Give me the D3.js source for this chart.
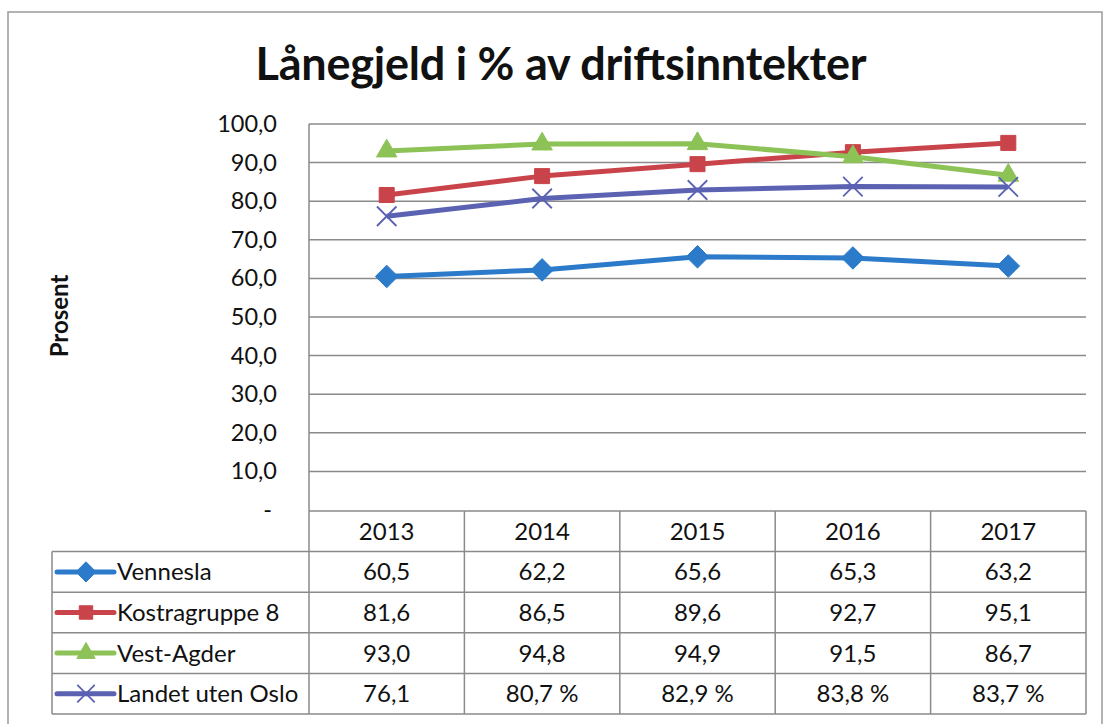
<!DOCTYPE html>
<html>
<head>
<meta charset="utf-8">
<script src="https://cdn.jsdelivr.net/npm/d3@7"></script>
<style>
  body { margin: 0; background: #fff; }
  text { font-family: Lato, "Open Sans", sans-serif; fill: #111; }
</style>
</head>
<body>
<div id="wrapper"></div>
<script>
/* DATA */
const years = ['2013', '2014', '2015', '2016', '2017'];
const seriesNames = ['Vennesla', 'Kostragruppe 8', 'Vest-Agder', 'Landet uten Oslo'];
const vennesla = [60.5, 62.2, 65.6, 65.3, 63.2];
const kostragruppe8 = [81.6, 86.5, 89.6, 92.7, 95.1];
const vestAgder = [93.0, 94.8, 94.9, 91.5, 86.7];
const landetUtenOslo = [76.1, 80.7, 82.9, 83.8, 83.7];
const landetSuffix = ['', ' %', ' %', ' %', ' %'];
const yTicks = [0, 10, 20, 30, 40, 50, 60, 70, 80, 90, 100];

const seriesValues = [vennesla, kostragruppe8, vestAgder, landetUtenOslo];
const colors = ['#2c7bcb', '#c9444a', '#8cc256', '#5b62b2'];
const markers = ['diamond', 'square', 'triangle', 'cross'];

const series = seriesNames.map((name, i) => ({
  name,
  values: seriesValues[i],
  color: colors[i],
  marker: markers[i],
  labels: seriesValues[i].map((v, j) =>
    v.toFixed(1).replace('.', ',') + (i === 3 ? landetSuffix[j] : '')),
}));

/* DIMENSIONS */
const dimensions = {
  width: 1104,
  height: 724,
  plotLeft: 309,
  plotRight: 1086,
  plotTop: 124,
  plotBottom: 510,
  tableTop: 511,
  rowHeight: 40.6,
  legendLeft: 52,
};

/* SCALES */
const xScale = d3.scaleBand()
  .domain(years)
  .range([dimensions.plotLeft, dimensions.plotRight]);

const yScale = d3.scaleLinear()
  .domain([0, 100])
  .range([dimensions.plotBottom, dimensions.plotTop]);

const svg = d3.select('#wrapper')
  .append('svg')
  .attr('width', dimensions.width)
  .attr('height', dimensions.height);

const gridColor = '#8a8a8a';

// outer frame
svg.append('rect')
  .attr('x', 8)
  .attr('y', 12)
  .attr('width', 1094)
  .attr('height', 740)
  .attr('fill', 'none')
  .attr('stroke', '#9a9a9a')
  .attr('stroke-width', 1.5);

// title
svg.append('text')
  .attr('x', 561)
  .attr('y', 80)
  .attr('text-anchor', 'middle')
  .attr('font-size', 45)
  .attr('font-weight', 'bold')
  .attr('textLength', 611)
  .text('Lånegjeld i % av driftsinntekter');

// y axis label
svg.append('text')
  .attr('transform', 'translate(68, 316) rotate(-90)')
  .attr('text-anchor', 'middle')
  .attr('font-size', 24)
  .attr('font-weight', 'bold')
  .text('Prosent');

/* GRID + Y AXIS */
svg.append('g')
  .selectAll('line')
  .data(yTicks.filter(d => d > 0))
  .join('line')
  .attr('x1', dimensions.plotLeft)
  .attr('x2', dimensions.plotRight)
  .attr('y1', d => yScale(d))
  .attr('y2', d => yScale(d))
  .attr('stroke', gridColor)
  .attr('stroke-width', 1.5);

svg.append('line')
  .attr('x1', dimensions.plotLeft)
  .attr('x2', dimensions.plotLeft)
  .attr('y1', dimensions.plotTop)
  .attr('y2', dimensions.tableTop + dimensions.rowHeight * 5)
  .attr('stroke', gridColor)
  .attr('stroke-width', 1.5);

const yAxis = d3.axisLeft(yScale)
  .tickValues(yTicks)
  .tickSize(0)
  .tickPadding(0)
  .tickFormat(d => d === 0 ? '-' : d.toFixed(1).replace('.', ','));

const yAxisGroup = svg.append('g')
  .attr('transform', 'translate(277, 0)')
  .call(yAxis);
yAxisGroup.select('.domain').remove();
yAxisGroup.selectAll('text')
  .attr('font-size', 23.5)
  .attr('font-family', 'Lato, sans-serif')
  .attr('fill', d => d === 0 ? '#888' : '#111');
yAxisGroup.selectAll('.tick').filter(d => d === 0).select('text')
  .attr('dx', -5);

/* LINES */
const lineGenerator = d3.line()
  .x((d, i) => xScale(years[i]) + xScale.bandwidth() / 2)
  .y(d => yScale(d));

const symbolPath = (type, size) => {
  if (type === 'diamond') return d3.symbol(d3.symbolDiamond2, size * 1.3)();
  if (type === 'square') return d3.symbol(d3.symbolSquare2, size * 1.15)();
  if (type === 'triangle') return d3.symbol(d3.symbolTriangle2, size * 1.2)();
  return d3.symbol(d3.symbolX, size * 1.0)();
};

series.forEach(s => {
  svg.append('path')
    .attr('d', lineGenerator(s.values))
    .attr('fill', 'none')
    .attr('stroke', s.color)
    .attr('stroke-width', 5)
    .attr('stroke-linejoin', 'round');

  svg.append('g')
    .selectAll('path')
    .data(s.values)
    .join('path')
    .attr('transform', (d, i) =>
      `translate(${xScale(years[i]) + xScale.bandwidth() / 2}, ${yScale(d)})`)
    .attr('d', symbolPath(s.marker, 250))
    .attr('fill', s.marker === 'cross' ? 'none' : s.color)
    .attr('stroke', s.color)
    .attr('stroke-width', s.marker === 'cross' ? 1.8 : 1);
});

/* DATA TABLE */
const table = svg.append('g');
const tTop = dimensions.tableTop;
const rh = dimensions.rowHeight;
const tBottom = tTop + rh * 5;

// horizontal lines
table.append('line')
  .attr('x1', dimensions.plotLeft).attr('x2', dimensions.plotRight)
  .attr('y1', tTop).attr('y2', tTop);
d3.range(1, 6).forEach(r => {
  table.append('line')
    .attr('x1', dimensions.legendLeft).attr('x2', dimensions.plotRight)
    .attr('y1', tTop + rh * r).attr('y2', tTop + rh * r);
});
// vertical lines
table.append('line')
  .attr('x1', dimensions.legendLeft).attr('x2', dimensions.legendLeft)
  .attr('y1', tTop + rh).attr('y2', tBottom);
years.forEach(y => {
  const x = xScale(y) + xScale.bandwidth();
  table.append('line')
    .attr('x1', x).attr('x2', x)
    .attr('y1', tTop).attr('y2', tBottom);
});
table.selectAll('line')
  .attr('stroke', gridColor)
  .attr('stroke-width', 1.5);

// header
table.append('g')
  .selectAll('text')
  .data(years)
  .join('text')
  .attr('x', d => xScale(d) + xScale.bandwidth() / 2)
  .attr('y', tTop + rh / 2 + 8.5)
  .attr('text-anchor', 'middle')
  .attr('font-size', 24)
  .text(d => d);

// rows
series.forEach((s, r) => {
  const cy = tTop + rh * (r + 1) + rh / 2;
  const row = table.append('g');

  row.append('line')
    .attr('x1', 57).attr('x2', 114)
    .attr('y1', cy).attr('y2', cy)
    .attr('stroke', s.color)
    .attr('stroke-width', 5)
    .attr('stroke-linecap', 'round');
  row.append('path')
    .attr('transform', `translate(86, ${cy})`)
    .attr('d', symbolPath(s.marker, 200))
    .attr('fill', s.marker === 'cross' ? 'none' : s.color)
    .attr('stroke', s.color)
    .attr('stroke-width', s.marker === 'cross' ? 1.8 : 1);

  row.append('text')
    .attr('x', 117)
    .attr('y', cy + 8.5)
    .attr('font-size', 24)
    .text(s.name);

  row.selectAll('text.val')
    .data(s.labels)
    .join('text')
    .attr('class', 'val')
    .attr('x', (d, i) => xScale(years[i]) + xScale.bandwidth() / 2)
    .attr('y', cy + 8.5)
    .attr('text-anchor', 'middle')
    .attr('font-size', 24)
    .text(d => d);
});
</script>
</body>
</html>
